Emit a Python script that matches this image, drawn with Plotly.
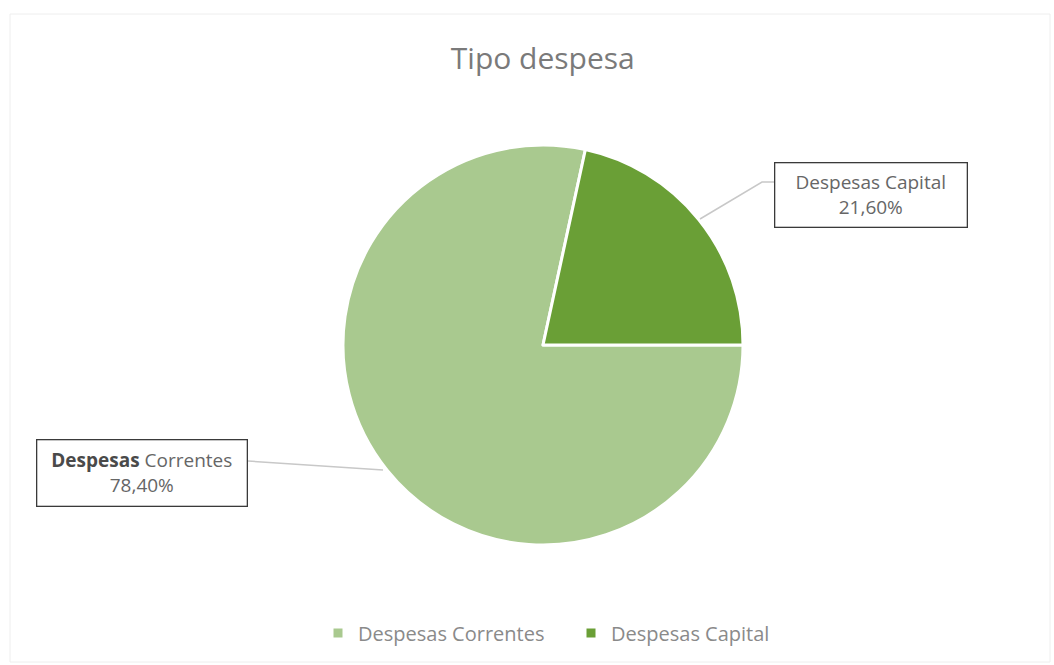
import plotly.graph_objects as go

# Distribution of expenditure by type (percent)
categories = ["Despesas Correntes", "Despesas Capital"]
shares = [78.40, 21.60]
colors = ["#a9c98f", "#6a9f36"]

W, H = 1054, 665
FONT = "Open Sans, Liberation Sans, sans-serif"


def px(x):
    return x / W


def py(y):
    return 1 - y / H


def pct(v):
    return f"{v:.2f}".replace(".", ",") + "%"


fig = go.Figure()
fig.add_trace(go.Pie(
    labels=categories,
    values=shares,
    sort=False,
    direction="clockwise",
    rotation=90,
    marker=dict(colors=colors, line=dict(color="white", width=3)),
    textinfo="none",
    hoverinfo="label+percent",
    domain=dict(x=[px(343), px(743)], y=[py(545), py(145)]),
))

# Data callouts with leader lines
callouts = [
    dict(text=f"Despesas Capital<br>{pct(shares[1])}", x=871, y=195, w=183, h=55,
         line=[(700, 219), (762, 182), (775, 182)]),
    dict(text=f"<span style='color:#4a4a4a'><b>Despesas</b></span> Correntes<br>{pct(shares[0])}",
         x=142, y=473, w=201, h=57, line=[(248, 461), (383, 470)]),
]
annotations = []
shapes = []
for c in callouts:
    annotations.append(dict(
        text=c["text"], x=px(c["x"]), y=py(c["y"]), xref="paper", yref="paper",
        xanchor="center", yanchor="middle",
        width=c["w"], height=c["h"],
        showarrow=False, align="center", valign="middle",
        font=dict(family=FONT, size=19, color="#666666"),
        bordercolor="#3a3a3a", borderwidth=1.3, borderpad=4, bgcolor="white",
    ))
    pts = c["line"]
    path = "M " + " L ".join(f"{px(x)},{py(y)}" for x, y in pts)
    shapes.append(dict(type="path", path=path, xref="paper", yref="paper",
                       line=dict(color="#c8c8c8", width=1.5)))

# Chart area frame
shapes.append(dict(type="rect", xref="paper", yref="paper",
                   x0=px(10), x1=px(1050), y0=py(662), y1=py(14),
                   line=dict(color="#eeeeee", width=1), layer="below"))

fig.update_layout(
    width=W, height=H,
    margin=dict(l=0, r=0, t=0, b=0),
    paper_bgcolor="white",
    plot_bgcolor="white",
    title=dict(text="Tipo despesa", x=0.515, xanchor="center",
               y=py(58), yanchor="middle",
               font=dict(family=FONT, size=30, color="#7a7a7a")),
    showlegend=True,
    legend=dict(orientation="h", x=px(318), xanchor="left",
                y=py(633), yanchor="middle",
                font=dict(family=FONT, size=20, color="#8a8a8a"),
                itemwidth=30, tracegroupgap=0, entrywidth=208),
    annotations=annotations,
    shapes=shapes,
)

fig.write_html("out.html")
